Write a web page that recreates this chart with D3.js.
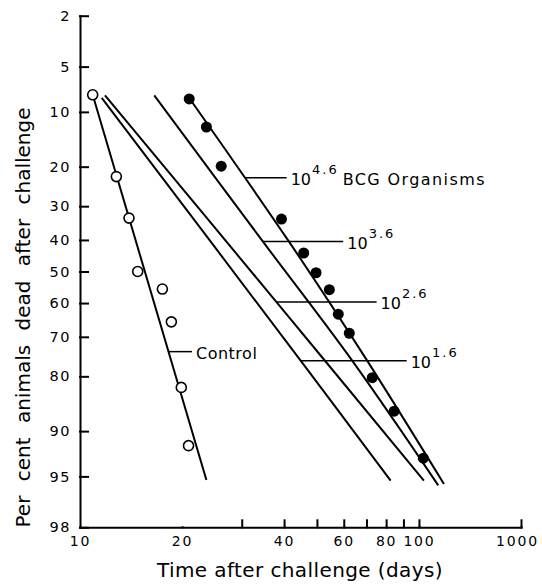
<!DOCTYPE html>
<html>
<head>
<meta charset="utf-8">
<script src="https://cdn.jsdelivr.net/npm/d3@7"></script>
<style>
  body { margin: 0; background: #fff; }
  svg { display: block; font-family: 'DejaVu Sans', sans-serif; }
</style>
</head>
<body>
<svg id="chart"></svg>
<script>
const svgWidth = 542, svgHeight = 585

// axis ticks
const yTicks = [2, 5, 10, 20, 30, 40, 50, 60, 70, 80, 90, 95, 98]
const xTickMarks = [30, 40, 50, 60, 70, 80, 90, 100, 200]
const xLabelValues = [10, 20, 40, 60, 80, 100, 200]
const xLabelText = ['10', '20', '40', '60', '80', '100', '1000']

// observed points (days, per cent dead)
const controlDays = [10.9, 12.8, 13.95, 14.8, 17.5, 18.6, 19.9, 20.9]
const controlPct = [7.8, 22.3, 33.4, 50, 55.6, 65.7, 82.4, 91.9]
const bcgDays = [21.0, 23.6, 26.1, 39.3, 45.7, 49.7, 54.4, 57.8, 62.3, 72.8, 84.5, 103]
const bcgPct = [8.3, 12.3, 19.9, 33.7, 44.1, 50.4, 55.8, 63.4, 69.0, 80.3, 86.9, 93.3]

// fitted lines
const fitControlDays = [10.9, 23.6]
const fitControlPct = [7.8, 95.3]
const fit46Days = [21.1, 41.65, 70.1, 118.5]
const fit46Pct = [8.3, 41.0, 76.1, 95.6]
const fit36Days = [16.56, 34.7, 63.3, 114.0]
const fit36Pct = [7.86, 40.6, 76.1, 95.7]
const fit26Days = [11.85, 38.0, 103.4]
const fit26Pct = [7.86, 59.7, 95.35]
const fit16Days = [11.59, 44.6, 82.5]
const fit16Pct = [8.16, 76.1, 95.35]

// curve labels
const labelMain = ['Control', '10', '10', '10', '10']
const labelSup = ['', '4.6', '3.6', '2.6', '1.6']
const labelTail = ['', 'BCG Organisms', '', '', '']
const labelPct = [74.0, 22.6, 40.5, 59.7, 76.3]
const labelEndDays = [21.4, 40.7, 59.8, 75.0, 92.0]

// inverse normal cdf (Acklam)
const probit = p => {
  const a = [-3.969683028665376e+01, 2.209460984245205e+02, -2.759285104469687e+02, 1.383577518672690e+02, -3.066479806614716e+01, 2.506628277459239e+00]
  const b = [-5.447609879822406e+01, 1.615858368580409e+02, -1.556989798598866e+02, 6.680131188771972e+01, -1.328068155288572e+01]
  const c = [-7.784894002430293e-03, -3.223964580411365e-01, -2.400758277161838e+00, -2.549732539343734e+00, 4.374664141464968e+00, 2.938163982698783e+00]
  const d = [7.784695709041462e-03, 3.224671290700398e-01, 2.445134137142996e+00, 3.754408661907416e+00]
  const pl = 0.02425
  if (p < pl) {
    const q = Math.sqrt(-2 * Math.log(p))
    return (((((c[0] * q + c[1]) * q + c[2]) * q + c[3]) * q + c[4]) * q + c[5]) / ((((d[0] * q + d[1]) * q + d[2]) * q + d[3]) * q + 1)
  }
  if (p <= 1 - pl) {
    const q = p - 0.5, r = q * q
    return (((((a[0] * r + a[1]) * r + a[2]) * r + a[3]) * r + a[4]) * r + a[5]) * q / (((((b[0] * r + b[1]) * r + b[2]) * r + b[3]) * r + b[4]) * r + 1)
  }
  const q = Math.sqrt(-2 * Math.log(1 - p))
  return -(((((c[0] * q + c[1]) * q + c[2]) * q + c[3]) * q + c[4]) * q + c[5]) / ((((d[0] * q + d[1]) * q + d[2]) * q + d[3]) * q + 1)
}

const x = d3.scaleLog().domain([10, 200]).range([80, 521])
const y = d3.scaleLinear().domain([probit(0.02), probit(0.98)]).range([15.7, 527.3])
const yp = pct => y(probit(pct / 100))

const svg = d3.select('#chart')
  .attr('width', svgWidth)
  .attr('height', svgHeight)

svg.append('rect').attr('width', svgWidth).attr('height', svgHeight).attr('fill', '#fff')

// y axis
const yAxis = svg.append('g')
  .attr('transform', 'translate(80,0)')
  .call(d3.axisLeft(y)
    .tickValues(yTicks.map(p => probit(p / 100)))
    .tickFormat((d, i) => yTicks[i])
    .tickSizeInner(-8)
    .tickSizeOuter(0)
    .tickPadding(9))

// x axis: marks, then labels
const xAxis = svg.append('g')
  .attr('transform', 'translate(0,527.3)')
  .call(d3.axisBottom(x)
    .tickValues(xTickMarks)
    .tickFormat('')
    .tickSizeInner(-7)
    .tickSizeOuter(0))

const xLabels = svg.append('g')
  .attr('transform', 'translate(0,527.3)')
  .call(d3.axisBottom(x)
    .tickValues(xLabelValues)
    .tickFormat((d, i) => xLabelText[i])
    .tickSize(0)
    .tickPadding(9))
xLabels.select('.domain').remove()

svg.selectAll('.domain, .tick line')
  .attr('stroke', '#000')
  .attr('stroke-width', 2)
  .attr('stroke-linecap', 'square')

yAxis.selectAll('text')
  .attr('font-size', 14.5)
  .attr('letter-spacing', 1.5)
  .attr('fill', '#000')
  .attr('font-family', "'DejaVu Sans', sans-serif")

xLabels.selectAll('text')
  .attr('font-size', 14)
  .attr('letter-spacing', 1.8)
  .attr('fill', '#000')
  .attr('font-family', "'DejaVu Sans', sans-serif")
  .attr('dx', (d, i) => i === xLabelValues.length - 1 ? -4 : 0)

// axis titles
svg.append('text')
  .text('Time after challenge (days)')
  .attr('x', 300)
  .attr('y', 576.5)
  .attr('text-anchor', 'middle')
  .attr('font-size', 20)
  .attr('letter-spacing', 0.4)

svg.append('text')
  .text('Per cent animals dead after challenge')
  .attr('transform', 'translate(29.5,317.5) rotate(-90)')
  .attr('text-anchor', 'middle')
  .attr('font-size', 20)
  .attr('word-spacing', 8)

// fitted lines
const fits = [
  [fitControlDays, fitControlPct],
  [fit46Days, fit46Pct],
  [fit36Days, fit36Pct],
  [fit26Days, fit26Pct],
  [fit16Days, fit16Pct]
].map(([ds, ps]) => ds.map((dd, i) => [x(dd), yp(ps[i])]))

svg.selectAll('path.fit')
  .data(fits)
  .enter()
  .append('path')
  .classed('fit', true)
  .attr('d', d3.line().curve(d3.curveCatmullRom.alpha(0.5)))
  .attr('fill', 'none')
  .attr('stroke', '#000')
  .attr('stroke-width', 2)

// leader lines and labels
const xAtY = (pts, yv) => {
  for (let i = 0; i < pts.length - 1; i++) {
    const [x0, y0] = pts[i], [x1, y1] = pts[i + 1]
    if (yv >= y0 && yv <= y1) return x0 + (x1 - x0) * (yv - y0) / (y1 - y0)
  }
  return pts[0][0]
}

labelMain.forEach((main, i) => {
  const ly = yp(labelPct[i])
  const x0 = xAtY(fits[i], ly)
  const x1 = x(labelEndDays[i])

  svg.append('line')
    .attr('x1', x0).attr('x2', x1)
    .attr('y1', ly).attr('y2', ly)
    .attr('stroke', '#000')
    .attr('stroke-width', 1.5)

  const t = svg.append('text')
    .attr('x', x1 + 4)
    .attr('y', ly + 7)
    .attr('font-size', 16)
    .attr('letter-spacing', i === 0 ? 0.5 : 0)
    .text(main)

  if (labelSup[i]) {
    t.append('tspan')
      .attr('dy', -11)
      .attr('dx', 1)
      .attr('font-size', 13)
      .attr('letter-spacing', 2)
      .text(labelSup[i])
  }
  if (labelTail[i]) {
    t.append('tspan')
      .attr('dy', 11)
      .attr('dx', 4)
      .attr('font-size', 16)
      .attr('letter-spacing', 1.4)
      .text(labelTail[i])
  }
})

// observed points
svg.selectAll('circle.control')
  .data(controlDays)
  .enter()
  .append('circle')
  .classed('control', true)
  .attr('cx', d => x(d))
  .attr('cy', (d, i) => yp(controlPct[i]))
  .attr('r', 5)
  .attr('fill', '#fff')
  .attr('stroke', '#000')
  .attr('stroke-width', 1.6)

svg.selectAll('circle.bcg')
  .data(bcgDays)
  .enter()
  .append('circle')
  .classed('bcg', true)
  .attr('cx', d => x(d))
  .attr('cy', (d, i) => yp(bcgPct[i]))
  .attr('r', 5.5)
  .attr('fill', '#000')
</script>
</body>
</html>
